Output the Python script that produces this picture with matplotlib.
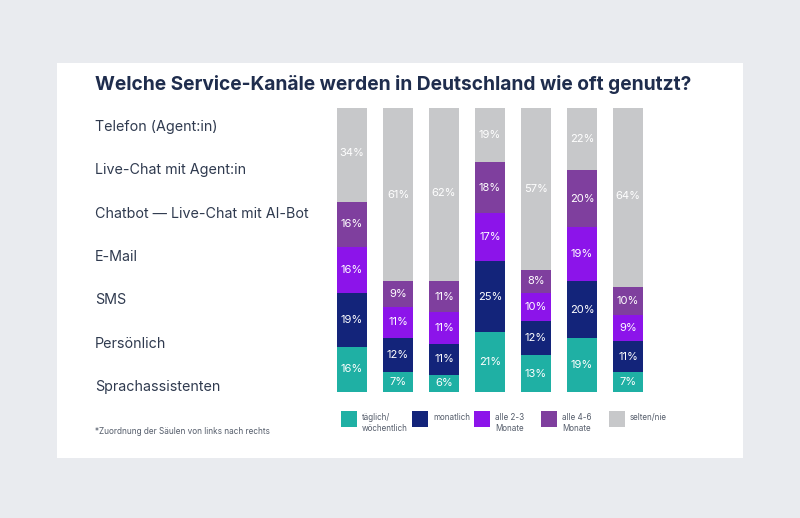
import matplotlib
matplotlib.use("Agg")
import matplotlib.pyplot as plt
from matplotlib.patches import Rectangle
import numpy as np

plt.rcParams['font.family'] = ['Inter', 'DejaVu Sans']

title = "Welche Service-Kanäle werden in Deutschland wie oft genutzt?"
channels = ["Telefon (Agent:in)", "Live-Chat mit Agent:in", "Chatbot — Live-Chat mit AI-Bot",
            "E-Mail", "SMS", "Persönlich", "Sprachassistenten"]
series_names = ["täglich/\nwöchentlich", "monatlich", "alle 2-3\nMonate", "alle 4-6\nMonate", "selten/nie"]
taeglich = [16, 7, 6, 21, 13, 19, 7]
monatlich = [19, 12, 11, 25, 12, 20, 11]
alle_2_3 = [16, 11, 11, 17, 10, 19, 9]
alle_4_6 = [16, 9, 11, 18, 8, 20, 10]
selten = [34, 61, 62, 19, 57, 22, 64]
footnote = "*Zuordnung der Säulen von links nach rechts"

colors = ["#1fb0a4", "#13247a", "#8c14ea", "#7f3f9e", "#c7c8ca"]

W, H = 800, 518
fig = plt.figure(figsize=(W / 100, H / 100), dpi=100)
fig.patch.set_facecolor("#e9ebef")

def fx(px):
    return px / W

def fy(py):
    return 1 - py / H

# white panel
fig.patches.append(Rectangle((fx(57), fy(458)), fx(743) - fx(57), fy(63) - fy(458),
                             transform=fig.transFigure, facecolor="white", edgecolor="none", zorder=-10))

fig.text(fx(95), fy(85), title, fontsize=13.8, fontweight="bold", color="#1f2d4d",
         ha="left", va="center")

for i, ch in enumerate(channels):
    fig.text(fx(95), fy(127 + i * 43.3), ch, fontsize=10.3, color="#2f3a4f", ha="left", va="center")

ax = fig.add_axes([fx(329), fy(392), fx(651) - fx(329), fy(108) - fy(392)])
ax.set_zorder(5)
ax.patch.set_alpha(0)
ax.set_xlim(-0.5, 6.5)
ax.set_ylim(0, 100)
ax.axis("off")

data = [taeglich, monatlich, alle_2_3, alle_4_6, selten]
x = np.arange(len(channels))
bottom = np.zeros(len(channels))
for vals, col in zip(data, colors):
    vals = np.array(vals, dtype=float)
    ax.bar(x, vals, bottom=bottom, width=0.67, color=col, edgecolor="none")
    for xi, b, v in zip(x, bottom, vals):
        ax.text(xi, b + v / 2, f"{int(v)}%", ha="center", va="center", color="white", fontsize=8)
    bottom += vals

# legend
leg_x = [341, 412, 474, 541, 609]
for lx, name, col in zip(leg_x, series_names, colors):
    fig.patches.append(Rectangle((fx(lx), fy(427)), fx(16), fy(411) - fy(427),
                                 transform=fig.transFigure, facecolor=col, edgecolor="none", zorder=1))
    fig.text(fx(lx + 21), fy(413), name, fontsize=5.8, color="#555d6b", ha="left", va="top",
             multialignment="left", linespacing=1.25)

fig.text(fx(95), fy(432), footnote, fontsize=5.9, color="#555d6b", ha="left", va="center")

fig.savefig("out.png", dpi=100, facecolor=fig.get_facecolor())
